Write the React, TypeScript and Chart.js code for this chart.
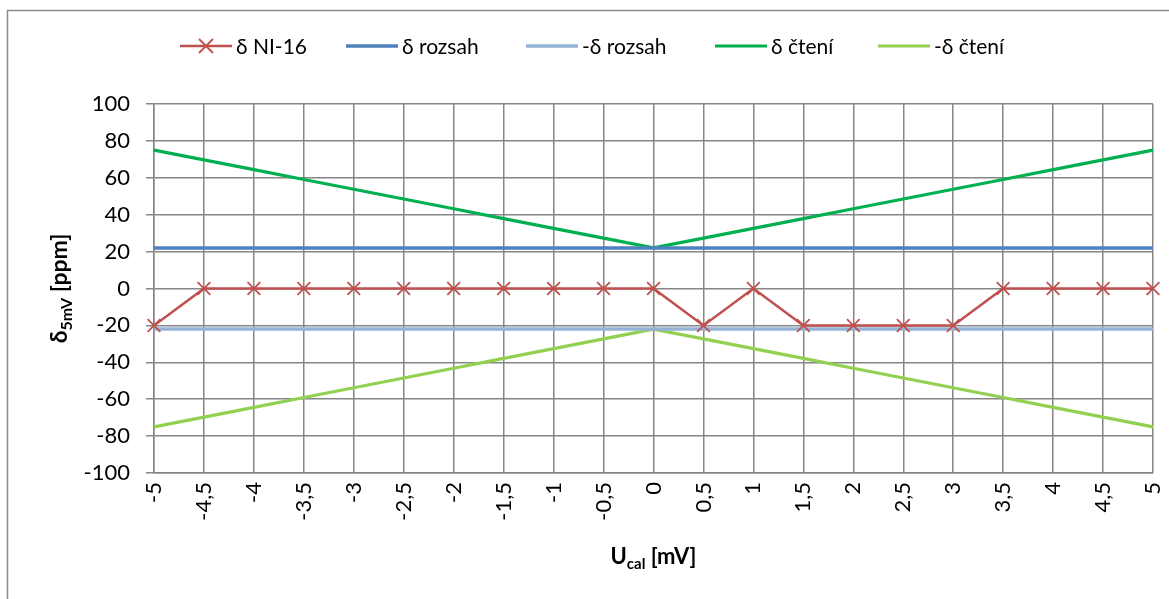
import React, { useEffect, useRef } from "react";
import { Chart, registerables } from "chart.js";

Chart.register(...registerables);

// Calibration voltage steps [mV]
const categories = [
  "-5", "-4,5", "-4", "-3,5", "-3", "-2,5", "-2", "-1,5", "-1", "-0,5", "0",
  "0,5", "1", "1,5", "2", "2,5", "3", "3,5", "4", "4,5", "5",
];

// Measured deviation of NI-16 [ppm]
const deltaNI16 = [-20, 0, 0, 0, 0, 0, 0, 0, 0, 0, 0, -20, 0, -20, -20, -20, -20, 0, 0, 0, 0];

// Range-dependent tolerance [ppm]
const deltaRange = [22, 22, 22, 22, 22, 22, 22, 22, 22, 22, 22, 22, 22, 22, 22, 22, 22, 22, 22, 22, 22];
const minusDeltaRange = [-22, -22, -22, -22, -22, -22, -22, -22, -22, -22, -22, -22, -22, -22, -22, -22, -22, -22, -22, -22, -22];

// Reading-dependent tolerance [ppm]
const deltaReading = [75, 69.7, 64.4, 59.1, 53.8, 48.5, 43.2, 37.9, 32.6, 27.3, 22, 27.3, 32.6, 37.9, 43.2, 48.5, 53.8, 59.1, 64.4, 69.7, 75];
const minusDeltaReading = [-75, -69.7, -64.4, -59.1, -53.8, -48.5, -43.2, -37.9, -32.6, -27.3, -22, -27.3, -32.6, -37.9, -43.2, -48.5, -53.8, -59.1, -64.4, -69.7, -75];

const yTicks = { min: -100, max: 100, step: 20 };

const FONT = "Lato, 'DejaVu Sans', sans-serif";
const GRID = "#868686";

// left edge of each legend entry's sample line
const LEGEND_X = [180, 346, 526, 715, 878];

type Seg = { text: string; sub?: boolean };

function drawRich(ctx: CanvasRenderingContext2D, segs: Seg[], size: number, subSize: number, subShift: number) {
  const widths = segs.map((s) => {
    ctx.font = `bold ${s.sub ? subSize : size}px ${FONT}`;
    return ctx.measureText(s.text).width;
  });
  const total = widths.reduce((a, b) => a + b, 0);
  let x = -total / 2;
  segs.forEach((s, i) => {
    ctx.font = `bold ${s.sub ? subSize : size}px ${FONT}`;
    ctx.fillText(s.text, x, s.sub ? subShift : 0);
    x += widths[i];
  });
}

const decorPlugin = {
  id: "decor",
  beforeDraw(chart: any) {
    const ctx = chart.ctx as CanvasRenderingContext2D;
    ctx.save();
    ctx.strokeStyle = "#8c8c8c";
    ctx.lineWidth = 1.5;
    ctx.strokeRect(7.5, 10.5, 1300, 700);
    ctx.restore();
  },
  afterDraw(chart: any) {
    const ctx = chart.ctx as CanvasRenderingContext2D;
    const area = chart.chartArea;
    ctx.save();
    ctx.fillStyle = "#000";
    ctx.textBaseline = "alphabetic";
    ctx.textAlign = "left";

    // x axis title
    ctx.save();
    ctx.translate((area.left + area.right) / 2, 564);
    drawRich(ctx, [{ text: "U" }, { text: "cal", sub: true }, { text: " [mV]" }], 22, 15, 5);
    ctx.restore();

    // y axis title
    ctx.save();
    ctx.translate(67, (area.top + area.bottom) / 2);
    ctx.rotate(-Math.PI / 2);
    drawRich(ctx, [{ text: "δ" }, { text: "5mV", sub: true }, { text: " [ppm]" }], 23, 16, 5);
    ctx.restore();

    // legend
    const items = chart.data.datasets;
    const y = 46;
    ctx.font = `21px ${FONT}`;
    ctx.textBaseline = "middle";
    items.forEach((ds: any, i: number) => {
      const x = LEGEND_X[i];
      ctx.strokeStyle = ds.borderColor;
      ctx.lineWidth = ds.borderWidth;
      ctx.beginPath();
      ctx.moveTo(x, y);
      ctx.lineTo(x + 52, y);
      ctx.stroke();
      if (ds.pointRadius > 0) {
        const r = 7;
        const cx = x + 26;
        ctx.lineWidth = 1.8;
        ctx.beginPath();
        ctx.moveTo(cx - r, y - r);
        ctx.lineTo(cx + r, y + r);
        ctx.moveTo(cx - r, y + r);
        ctx.lineTo(cx + r, y - r);
        ctx.stroke();
      }
      ctx.fillStyle = "#000";
      ctx.fillText(ds.label, x + 56, y + 1);
    });
    ctx.restore();
  },
};

export default function App() {
  const canvasRef = useRef<HTMLCanvasElement | null>(null);

  useEffect(() => {
    if (!canvasRef.current) return;
    const line = (label: string, data: number[], color: string, width: number) => ({
      label,
      data,
      borderColor: color,
      backgroundColor: color,
      borderWidth: width,
      pointRadius: 0,
      pointHoverRadius: 0,
      tension: 0,
      clip: false as const,
    });
    const chart = new Chart(canvasRef.current, {
      type: "line",
      data: {
        labels: categories,
        datasets: [
          {
            ...line("δ NI-16", deltaNI16, "#C0504D", 2.5),
            pointStyle: "crossRot",
            pointRadius: 9,
            pointBorderWidth: 1.8,
            pointBorderColor: "#C0504D",
          },
          line("δ rozsah", deltaRange, "#4F81BD", 3.5),
          line("-δ rozsah", minusDeltaRange, "#95B3D7", 3.5),
          line("δ čtení", deltaReading, "#00B050", 3.2),
          line("-δ čtení", minusDeltaReading, "#92D050", 3.2),
        ],
      },
      options: {
        animation: false,
        responsive: false,
        devicePixelRatio: 1,
        events: [],
        layout: { padding: { left: 0, right: 16, top: 104, bottom: 0 } },
        plugins: {
          legend: { display: false },
          tooltip: { enabled: false },
          title: { display: false },
        },
        scales: {
          x: {
            type: "category",
            offset: false,
            grid: { color: GRID, lineWidth: 1.5, drawTicks: false },
            border: { color: GRID, width: 1.5 },
            ticks: {
              autoSkip: false,
              minRotation: 90,
              maxRotation: 90,
              padding: 9,
              color: "#000",
              font: { family: FONT, size: 22 },
            },
            afterFit: (s: any) => {
              s.height = 126;
              s.paddingLeft = 0;
              s.paddingRight = 0;
            },
          },
          y: {
            min: yTicks.min,
            max: yTicks.max,
            grid: { color: GRID, lineWidth: 1.5, tickLength: 8 },
            border: { color: GRID, width: 1.5 },
            ticks: {
              stepSize: yTicks.step,
              padding: 16,
              color: "#000",
              font: { family: FONT, size: 22 },
            },
            afterFit: (s: any) => {
              s.width = 154;
              s.paddingTop = 0;
              s.paddingBottom = 0;
            },
          },
        },
      },
      plugins: [decorPlugin],
    });
    return () => chart.destroy();
  }, []);

  return (
    <div style={{ position: "fixed", left: 0, top: 0, width: 1169, height: 599, background: "#fff" }}>
      <canvas ref={canvasRef} width={1169} height={599} style={{ display: "block" }} />
    </div>
  );
}
